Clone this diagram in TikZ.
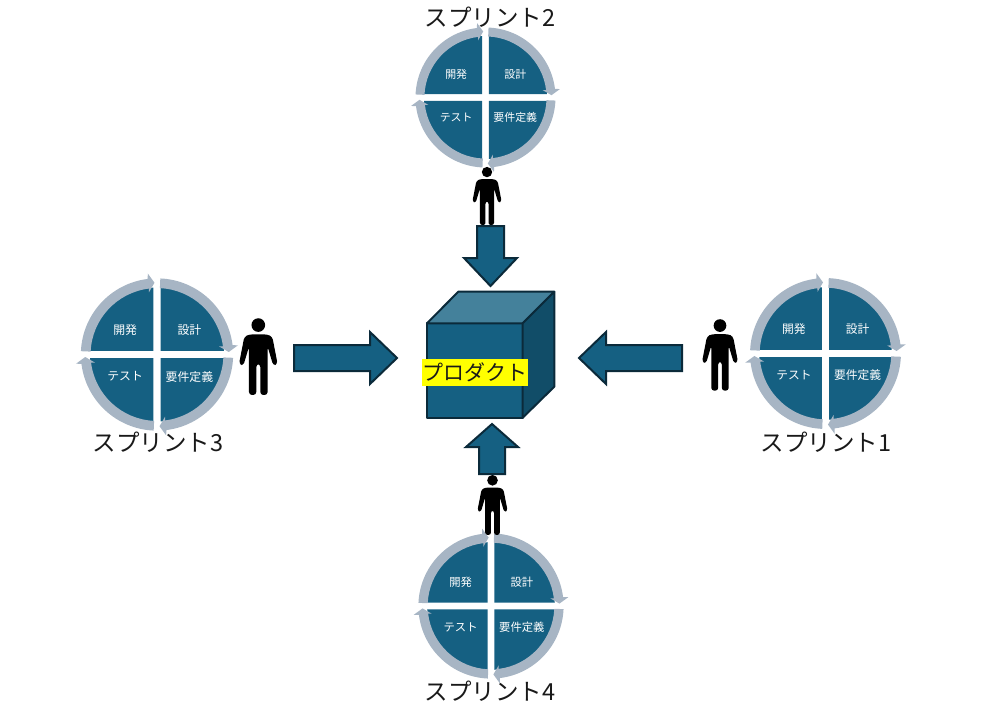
\documentclass[tikz,border=0pt]{standalone}
\usepackage{fontspec}
\setmainfont{Noto Sans CJK JP}
\definecolor{teal}{HTML}{156082}
\definecolor{tealedge}{HTML}{0B2A3A}
\definecolor{tealtop}{HTML}{44819B}
\definecolor{tealside}{HTML}{114D68}
\definecolor{ringgray}{HTML}{A7B5C4}
\definecolor{hilite}{HTML}{FFFF00}
\tikzset{
  sector/.style={fill=teal,draw=none},
  ringarrow/.style={fill=ringgray,draw=none},
  blockarrow/.style={fill=teal,draw=tealedge,line width=2pt,line join=miter},
  cubeface/.style={draw=tealedge,line width=2pt,line join=round},
  phase/.style={text=white,font=\fontsize{11}{12}\selectfont,inner sep=0pt},
  sprintlabel/.style={text=black!90,font=\fontsize{23.5}{26}\selectfont,inner sep=0pt},
  personshape/.style={fill=black,draw=none}
}
\newcommand{\quadrantpiece}[1]{%
  \begin{scope}[rotate=#1]
    \fill[sector] (3.3,3.3) -- (86.9:62) arc[start angle=86.9,end angle=3.1,radius=62] -- cycle;
    \fill[ringarrow] (87.5:70.5) arc[start angle=87.5,end angle=7,radius=70.5]
       -- (6.5:75.5) -- (2:66.5) -- (7.4:58) -- (7:61.5)
       arc[start angle=7,end angle=87.5,radius=61.5] -- cycle;
  \end{scope}}
\newcommand{\sprintcycle}[4]{% name, cx, cy, scale
  \begin{scope}[shift={(#2,#3)},x=#4pt,y=#4pt]
    \quadrantpiece{0}\quadrantpiece{-90}\quadrantpiece{-180}\quadrantpiece{-270}
    \node[phase,scale=#4] (#1a) at (-29.5,23) {開発};
    \node[phase,scale=#4] (#1b) at (30,23) {設計};
    \node[phase,scale=#4] (#1c) at (-29.5,-20.5) {テスト};
    \node[phase,scale=#4] (#1d) at (30,-20.5) {要件定義};
  \end{scope}}
\newcommand{\personicon}[3]{% cx, cy, scale
  \begin{scope}[shift={(#1,#2)},x=#3pt,y=-#3pt]
    \fill[personshape] (0,-95) circle[radius=20.5];
    \fill[personshape,rounded corners=3pt*#3/0.33]
      (-27,-67) -- (27,-67) -- (42,-60) -- (58,22) -- (45,27) -- (28,-30)
      -- (28,115) -- (6,115) -- (6,22) -- (-6,22) -- (-6,115) -- (-28,115)
      -- (-28,-30) -- (-45,27) -- (-58,22) -- (-42,-60) -- cycle;
  \end{scope}}
\begin{document}
\begin{tikzpicture}[x=1pt,y=-1pt]
\useasboundingbox (0,0) rectangle (986,707);
% cycles
\sprintcycle{two}{485.5}{97.5}{0.993}
\sprintcycle{three}{157}{354.5}{1.08}
\sprintcycle{one}{825.5}{353.5}{1.07}
\sprintcycle{four}{491}{606}{1.03}
% labels
\node[sprintlabel] (labeltwo) at (490,17) {スプリント2};
\node[sprintlabel] (labelthree) at (158,442) {スプリント3};
\node[sprintlabel] (labelone) at (826,442) {スプリント1};
\node[sprintlabel] (labelfour) at (490,691) {スプリント4};
% people
\personicon{487}{196}{0.252}
\personicon{258.3}{356.7}{0.333}
\personicon{720}{355}{0.31}
\personicon{492.5}{505}{0.26}
% block arrows
\draw[blockarrow] (477,226) -- (504,226) -- (504,258) -- (517,258) -- (490.5,286) -- (464,258) -- (477,258) -- cycle;
\draw[blockarrow] (294,345) -- (370,345) -- (370,332) -- (397,358) -- (370,384) -- (370,371) -- (294,371) -- cycle;
\draw[blockarrow] (682,345) -- (606,345) -- (606,332) -- (579,358) -- (606,384) -- (606,371) -- (682,371) -- cycle;
\draw[blockarrow] (479,474) -- (505,474) -- (505,447) -- (518,447) -- (492,424) -- (466,447) -- (479,447) -- cycle;
% cube
\draw[cubeface,fill=teal] (427,323.3) rectangle (522.7,417.7);
\draw[cubeface,fill=tealtop] (427,323.3) -- (458.3,291.7) -- (554.3,291.7) -- (522.7,323.3) -- cycle;
\draw[cubeface,fill=tealside] (522.7,323.3) -- (554.3,291.7) -- (554.3,386.7) -- (522.7,417.7) -- cycle;
\node[fill=hilite,text=black!90,minimum width=105.5pt,minimum height=27pt,inner sep=0pt,font=\fontsize{21}{22}\selectfont] (product) at (474.8,372.5) {プロダクト};
\end{tikzpicture}
\end{document}
